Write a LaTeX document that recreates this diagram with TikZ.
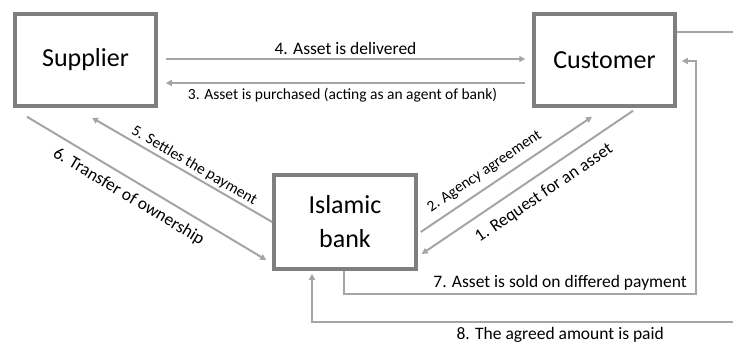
\documentclass[tikz,border=0pt]{standalone}
\usepackage{fontspec}
\setmainfont{Carlito}
\usetikzlibrary{arrows.meta,calc}
\definecolor{boxgray}{HTML}{7F7F7F}
\definecolor{linkgray}{HTML}{A5A5A5}
\begin{document}
\begin{tikzpicture}[x=1pt,y=-1pt,
  party/.style={draw=boxgray,line width=3.5pt,fill=white,inner sep=0pt,
    minimum width=141pt,minimum height=92pt,align=center,
    font=\fontsize{26}{34}\selectfont},
  link/.style={draw=linkgray,line width=2pt,-{Triangle[length=6pt,width=6pt]}},
  small/.style={font=\fontsize{15.5}{18}\selectfont,text=black,inner sep=2pt},
  big/.style={font=\fontsize{17.5}{21}\selectfont,text=black,inner sep=2pt}]
\clip (0,0) rectangle (733,350);

% the three parties
\node[party] (sup) at (85.5,60) {Supplier};
\node[party] (cust) at (604.5,60) {Customer};
\node[party,minimum width=142pt,minimum height=94pt] (bank) at (345,222) {Islamic\\bank};

% corner points of the two return loops
\coordinate (b7) at (696,294);
\coordinate (r7) at (696,61);
\coordinate (r8) at (740,32);
\coordinate (b8) at (740,322);
\coordinate (c8) at (312,322);

% supplier <-> customer
\draw[link] ($(sup.east)+(8,-1)$) -- node[big,above=1pt]{4. Asset is delivered} ($(cust.west)+(-7,-1)$);
\draw[link] ($(cust.west)+(-7,23)$) -- node[small,below=2pt,xshift=-3pt]{3. Asset is purchased (acting as an agent of bank)} ($(sup.east)+(8,23)$);

% bank <-> supplier
\draw[link] (bank.west) -- node[small,sloped,above,pos=0.46]{5. Settles the payment} ($(sup.south)+(6.5,10)$);
\draw[link] ($(sup.south)+(-58.5,9)$) -- node[big,sloped,below=6pt,pos=0.46]{6. Transfer of ownership} ($(bank.west)+(-6,38)$);

% bank <-> customer
\draw[link] ($(bank.east)+(3,10)$) -- node[small,sloped,above=5pt,pos=0.42]{2. Agency agreement} ($(cust.south)+(-12.5,9)$);
\draw[link] ($(cust.south)+(28.5,3)$) -- node[big,sloped,below=8pt,pos=0.47]{1. Request for an asset} ($(bank.east)+(4,32)$);

% sale on deferred payment
\draw[link] ($(bank.south)+(-1,0)$) |- (b7) -- (r7) -- ($(cust.east)+(5,1)$);
\node[big,anchor=south east,inner sep=1pt] (l7) at ($(b7)+(-8,-2)$) {7. Asset is sold on differed payment};

% payment of the agreed amount
\draw[link] ($(cust.east)+(0,-28)$) -- (r8) -- (b8) -- node[big,below=2pt,pos=0.42]{8. The agreed amount is paid} (c8) -- ($(bank.south)+(-33,3)$);
\end{tikzpicture}
\end{document}
